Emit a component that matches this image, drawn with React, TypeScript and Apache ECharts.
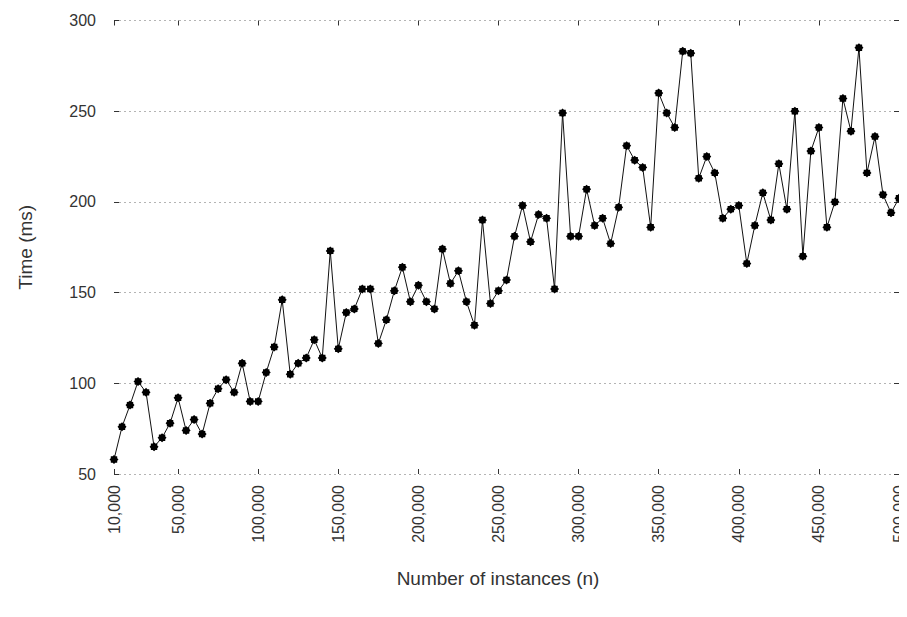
import React, { useEffect, useRef } from "react";
import * as echarts from "echarts";

const instances: number[] = [
  10000, 15000, 20000, 25000, 30000, 35000, 40000, 45000, 50000, 55000,
  60000, 65000, 70000, 75000, 80000, 85000, 90000, 95000, 100000, 105000,
  110000, 115000, 120000, 125000, 130000, 135000, 140000, 145000, 150000, 155000,
  160000, 165000, 170000, 175000, 180000, 185000, 190000, 195000, 200000, 205000,
  210000, 215000, 220000, 225000, 230000, 235000, 240000, 245000, 250000, 255000,
  260000, 265000, 270000, 275000, 280000, 285000, 290000, 295000, 300000, 305000,
  310000, 315000, 320000, 325000, 330000, 335000, 340000, 345000, 350000, 355000,
  360000, 365000, 370000, 375000, 380000, 385000, 390000, 395000, 400000, 405000,
  410000, 415000, 420000, 425000, 430000, 435000, 440000, 445000, 450000, 455000,
  460000, 465000, 470000, 475000, 480000, 485000, 490000, 495000, 500000,
];

const timesMs: number[] = [
  58, 76, 88, 101, 95, 65, 70, 78, 92, 74,
  80, 72, 89, 97, 102, 95, 111, 90, 90, 106,
  120, 146, 105, 111, 114, 124, 114, 173, 119, 139,
  141, 152, 152, 122, 135, 151, 164, 145, 154, 145,
  141, 174, 155, 162, 145, 132, 190, 144, 151, 157,
  181, 198, 178, 193, 191, 152, 249, 181, 181, 207,
  187, 191, 177, 197, 231, 223, 219, 186, 260, 249,
  241, 283, 282, 213, 225, 216, 191, 196, 198, 166,
  187, 205, 190, 221, 196, 250, 170, 228, 241, 186,
  200, 257, 239, 285, 216, 236, 204, 194, 202,
];

const xTickValues: number[] = [10000, 50000, 100000, 150000, 200000, 250000, 300000, 350000, 400000, 450000, 500000];
const yMin = 50;
const yMax = 300;
const yStep = 50;

const xTitle = "Number of instances (n)";
const yTitle = "Time (ms)";

function starPath(): string {
  const pts: string[] = [];
  const n = 8;
  for (let i = 0; i < n * 2; i++) {
    const r = i % 2 === 0 ? 10 : 7.8;
    const a = (Math.PI * i) / n - Math.PI / 2;
    const x = (10 + r * Math.cos(a)).toFixed(2);
    const y = (10 + r * Math.sin(a)).toFixed(2);
    pts.push((i === 0 ? "M" : "L") + x + " " + y);
  }
  return "path://" + pts.join(" ") + " Z";
}

const fmt = (v: number) => v.toLocaleString("en-US");

export default function App() {
  const ref = useRef<HTMLDivElement>(null);
  useEffect(() => {
    if (!ref.current) return;
    const chart = echarts.init(ref.current, null, { renderer: "svg" });
    const textColor = "#333";
    const fontFamily = "'Liberation Sans', Arial, sans-serif";
    const data = instances.map((x, i) => [x, timesMs[i]]);
    chart.setOption({
      animation: false,
      backgroundColor: "#ffffff",
      textStyle: { fontFamily },
      grid: { left: 103, right: 2, top: 12.5, bottom: 143, containLabel: false },
      xAxis: [
        {
          type: "value",
          min: 10000,
          max: 500000,
          position: "bottom",
          axisLine: { show: false },
          axisTick: { show: true, inside: true, length: 5, customValues: xTickValues, lineStyle: { color: textColor } },
          axisLabel: {
            show: true,
            rotate: 90,
            customValues: xTickValues,
            formatter: (v: number) => fmt(v),
            color: textColor,
            fontSize: 16,
            margin: 11,
            fontFamily,
          },
          splitLine: { show: false },
        },
        {
          type: "value",
          min: 10000,
          max: 500000,
          position: "top",
          axisLine: { show: false },
          axisTick: { show: true, inside: true, length: 5, customValues: xTickValues, lineStyle: { color: textColor } },
          axisLabel: { show: false },
          splitLine: { show: false },
        },
      ],
      yAxis: [
        {
          type: "value",
          min: yMin,
          max: yMax,
          interval: yStep,
          position: "left",
          name: yTitle,
          nameLocation: "middle",
          nameGap: 79,
          nameTextStyle: { color: textColor, fontSize: 19, fontFamily },
          axisLine: { show: false },
          axisTick: { show: true, inside: true, length: 5, lineStyle: { color: textColor } },
          axisLabel: { color: textColor, fontSize: 16, margin: 18, fontFamily },
          splitLine: { show: true, lineStyle: { color: "#b4b4b4", type: [2, 3], width: 1 } },
        },
        {
          type: "value",
          min: yMin,
          max: yMax,
          interval: yStep,
          position: "right",
          axisLine: { show: false },
          axisTick: { show: true, inside: true, length: 5, lineStyle: { color: textColor } },
          axisLabel: { show: false },
          splitLine: { show: false },
        },
      ],
      graphic: [
        {
          type: "text",
          x: 490,
          y: 570,
          style: {
            text: xTitle,
            fill: textColor,
            fontSize: 19,
            fontFamily,
            align: "center",
            verticalAlign: "middle",
          },
        },
      ],
      series: [
        {
          type: "line",
          data,
          xAxisIndex: 0,
          yAxisIndex: 0,
          symbol: starPath(),
          symbolSize: 9,
          showSymbol: true,
          itemStyle: { color: "#000" },
          lineStyle: { color: "#111", width: 1 },
        },
      ],
    });
    return () => chart.dispose();
  }, []);
  return <div ref={ref} style={{ width: 899, height: 609 }} />;
}
